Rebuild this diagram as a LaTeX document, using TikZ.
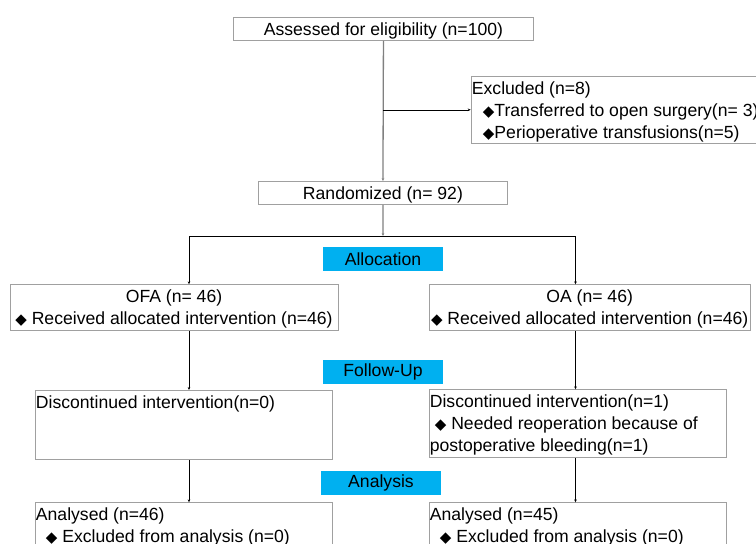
\documentclass[tikz,border=0pt]{standalone}
\usepackage{fontspec}
\setmainfont{Liberation Sans}
\newfontfamily\bulletfont{DejaVu Sans}
\usepackage{xcolor}
\usepackage{tikz}
\usetikzlibrary{positioning}
\usetikzlibrary{calc}
\usetikzlibrary{arrows.meta}

\definecolor{boxgray}{RGB}{160,160,160}
\definecolor{trunkgray}{RGB}{128,128,128}
\definecolor{stageblue}{RGB}{0,176,240}

\newcommand{\fbul}{{\bulletfont\fontsize{15}{15}\selectfont\raisebox{-0.3pt}{◆}}}
\newcommand{\boxtext}[3]{\parbox[b][#2][t]{#1}{\rule{0pt}{17.9pt}#3}}

\begin{document}
\begin{tikzpicture}[x=1pt, y=-1pt, font=\fontsize{17.6}{22}\selectfont, box/.style={draw=boxgray, line width=0.9pt, inner xsep=0.8pt, inner ysep=0pt, anchor=north west, fill=white}, stage/.style={fill=stageblue, minimum width=120.6pt, minimum height=23.4pt, inner sep=0pt}, link/.style={-{Stealth[length=3pt, width=2.6pt]}, line width=0.6pt}, trunk/.style={-{Stealth[length=3pt, width=2.6pt]}, draw=trunkgray, line width=1.3pt}]
\useasboundingbox (0,0) rectangle (756,544);
\clip (0,0) rectangle (756,544);
\node[box] (assess) at (233,17) {\boxtext{298.4pt}{23pt}{\centering Assessed for eligibility (n=100)}};
\node[box] (excl) at (470.7,76) {\boxtext{330pt}{66.7pt}{\raggedright Excluded (n=8)\\ \hspace*{11pt}\fbul Transferred to open surgery(n= 3)\\ \hspace*{11pt}\fbul Perioperative transfusions(n=5)}};
\node[box] (rand) at (258,181) {\boxtext{247.4pt}{23pt}{\centering Randomized (n= 92)}};
\node[stage] (alloc) at (383,259) {Allocation};
\node[box] (ofa) at (9.6,284.3) {\boxtext{326.3pt}{46pt}{\centering OFA (n= 46)\\ \fbul\ Received allocated intervention (n=46)}};
\node[box] (oa) at (428.6,284.3) {\boxtext{319.6pt}{46pt}{\centering OA (n= 46)\\ \fbul\ Received allocated intervention (n=46)}};
\node[stage] (follow) at (383,371.8) {Follow-Up};
\node[box] (dis1) at (34.7,390) {\boxtext{295.4pt}{69.3pt}{\raggedright Discontinued intervention(n=0)}};
\node[box] (dis2) at (428.6,389.3) {\boxtext{295.4pt}{68pt}{\raggedright Discontinued intervention(n=1)\\ \hspace*{5pt}\fbul\ Needed reoperation because of\\ postoperative bleeding(n=1)}};
\node[stage] (analysis) at (381,483) {Analysis};
\node[box] (ana1) at (34.7,502.3) {\boxtext{295.4pt}{80pt}{\raggedright Analysed (n=46)\\ \hspace*{10pt}\fbul\ Excluded from analysis (n=0)}};
\node[box] (ana2) at (428.6,502.3) {\boxtext{295.4pt}{80pt}{\raggedright Analysed (n=45)\\ \hspace*{10pt}\fbul\ Excluded from analysis (n=0)}};
% connectors
\coordinate (split) at (assess.south |- excl.west);
\coordinate (fork) at (383,236);
\coordinate (lcol) at (189,236);
\coordinate (rcol) at (575.5,236);
\draw[trunk] (assess.south) -- (rand.north);
\draw[link] (split) -- (excl.west);
\draw[trunk] (rand.south) -- (fork);
\draw[{Stealth[length=3pt, width=2.6pt]}-{Stealth[length=3pt, width=2.6pt]}, line width=0.6pt] (lcol |- ofa.north) -- (lcol) -- (rcol) -- (rcol |- oa.north);
\draw[link] (lcol |- ofa.south) -- (lcol |- dis1.north);
\draw[link] (rcol |- oa.south) -- (rcol |- dis2.north);
\draw[link] (lcol |- dis1.south) -- (lcol |- ana1.north);
\draw[link] (rcol |- dis2.south) -- (rcol |- ana2.north);
\end{tikzpicture}
\end{document}
